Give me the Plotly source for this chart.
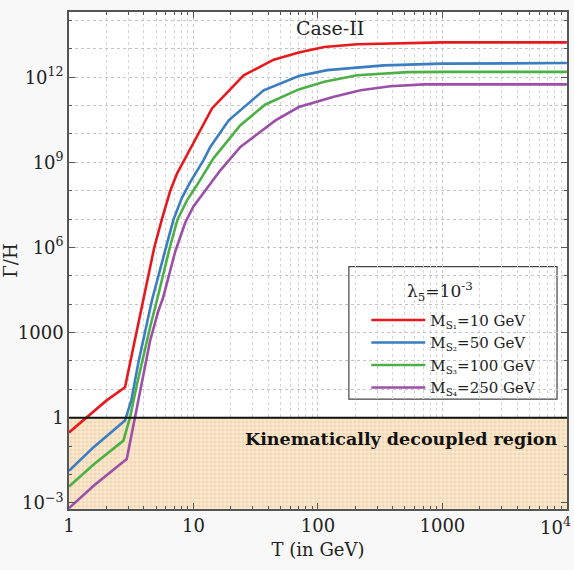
import plotly.graph_objects as go

# Temperature grid (GeV) and interaction rate over Hubble rate for each scalar mass
T_s1 = [1, 1.387, 1.995, 2.818, 3.311, 3.917, 4.842, 5.572, 6.501, 7.362, 8.59, 10,
        14.09, 25.29, 44.16, 70.15, 112.2, 207, 1000, 10000]
G_s1 = [0.302, 1.0, 3.98, 11.75, 355, 1.35e4, 1.0e6, 9.77e6, 9.77e7, 3.98e8, 1.41e9,
        5.25e9, 7.94e10, 1.17e12, 4.17e12, 7.41e12, 1.17e13, 1.45e13, 1.70e13, 1.70e13]

T_s2 = [1, 1.585, 2.818, 3.162, 3.614, 4.093, 4.634, 6.012, 6.918, 8.072, 9.419, 12.05,
        13.65, 19.19, 36.64, 70.15, 118.9, 338.8, 1000, 10000]
G_s2 = [0.0135, 0.093, 0.794, 3.98, 89.1, 1259, 1.35e4, 1.0e6, 9.77e6, 5.62e7, 2.0e8,
        1.2e9, 3.47e9, 3.02e10, 3.47e11, 1.10e12, 1.78e12, 2.63e12, 3.02e12, 3.16e12]

T_s3 = [1, 1.585, 2.735, 3.09, 3.508, 3.963, 4.487, 5.082, 6.457, 7.447, 8.872, 10.67,
        14.52, 23.82, 37.84, 70.15, 112.2, 207, 524.8, 1000, 10000]
G_s3 = [0.00372, 0.0229, 0.155, 1.0, 14.1, 158, 1585, 1.35e4, 1.0e6, 9.77e6, 4.57e7,
        1.58e8, 1.41e9, 2.04e10, 1.10e11, 3.72e11, 6.92e11, 1.17e12, 1.51e12, 1.55e12, 1.55e12]

T_s4 = [1, 1.585, 2.911, 3.396, 3.846, 4.487, 5.236, 5.675, 7.129, 8.59, 10, 12.45, 16.44,
        23.82, 45.6, 70.15, 134.3, 220.3, 380.2, 712.9, 10000]
G_s4 = [6.46e-4, 0.00404, 0.0347, 1.0, 20.4, 525, 6026, 1.58e4, 7.08e5, 7.6e6, 2.8e7,
        1.02e8, 5.25e8, 3.47e9, 3.02e10, 8.91e10, 2.04e11, 3.47e11, 4.79e11, 5.62e11, 5.62e11]

series_names = [
    "M<sub>S\u2081</sub>=10 GeV",
    "M<sub>S\u2082</sub>=50 GeV",
    "M<sub>S\u2083</sub>=100 GeV",
    "M<sub>S\u2084</sub>=250 GeV",
]
series_colors = ["#e8191e", "#3a7dc0", "#4cb047", "#9b4fa8"]

x_ticks = [1, 10, 100, 1000, 10000]
x_tick_text = ["1", "10", "100", "1000", "10<sup>4</sup>"]
y_ticks = [1e-3, 1, 1e3, 1e6, 1e9, 1e12]
y_tick_text = ["10<sup>\u22123</sup>", "1", "1000", "10<sup>6</sup>", "10<sup>9</sup>", "10<sup>12</sup>"]

X_RANGE = [0, 4.001]
Y_RANGE = [-3.22, 14.3]
DECOUPLING_LEVEL = 1.0

FONT = "DejaVu Serif"

fig = go.Figure()

# Shaded region below Gamma/H = 1
y_floor = 10 ** Y_RANGE[0]
fig.add_trace(go.Scatter(
    x=[x_ticks[0], x_ticks[-1], x_ticks[-1], x_ticks[0]],
    y=[y_floor, y_floor, DECOUPLING_LEVEL, DECOUPLING_LEVEL],
    fill="toself", mode="none", showlegend=False, hoverinfo="skip",
    fillcolor="#f7e4c8",
    fillpattern=dict(shape=".", size=4, solidity=0.5, fgcolor="#efc690", bgcolor="#f8e8d2"),
))

for T, G, name, color in zip([T_s1, T_s2, T_s3, T_s4], [G_s1, G_s2, G_s3, G_s4],
                              series_names, series_colors):
    fig.add_trace(go.Scatter(x=T, y=G, mode="lines", name=name,
                             line=dict(color=color, width=2.6)))

# Minor tick positions
minor_x = [m * 10 ** d for d in range(0, 4) for m in range(2, 10)]
minor_y = [10.0 ** k for k in range(-3, 15)]

axis_common = dict(
    showline=True, linecolor="#555", linewidth=1.6, mirror="allticks",
    ticks="inside", ticklen=6, tickcolor="#555",
    showgrid=True, gridcolor="#c4c4c4", griddash="dot", gridwidth=1,
    zeroline=False, automargin=False,
    tickfont=dict(family=FONT, size=18, color="#222"),
)

# The last x label sits at the right edge, so it is placed right-aligned separately
fig.update_xaxes(
    type="log", range=X_RANGE, tickvals=x_ticks, ticktext=x_tick_text[:-1] + [""],
    title=dict(text="T (in GeV)", font=dict(family=FONT, size=18, color="#222"), standoff=8),
    minor=dict(tickvals=minor_x, ticks="inside", ticklen=3, tickcolor="#555",
               showgrid=True, gridcolor="#d4d4d4", griddash="dot", gridwidth=1),
    **axis_common,
)
fig.add_annotation(text=x_tick_text[-1], x=1.012, xref="paper", y=0, yref="paper",
                   yshift=-3, showarrow=False, xanchor="right", yanchor="top",
                   font=dict(family=FONT, size=18, color="#222"))

fig.update_yaxes(
    type="log", range=Y_RANGE, tickvals=y_ticks, ticktext=y_tick_text,
    title=dict(text="\u0393/H", font=dict(family=FONT, size=18, color="#222"), standoff=4),
    minor=dict(tickvals=minor_y, ticks="inside", ticklen=3, tickcolor="#555",
               showgrid=True, gridcolor="#c4c4c4", griddash="dot", gridwidth=1),
    **axis_common,
)

# Threshold line at Gamma/H = 1
fig.add_shape(type="line", xref="paper", yref="y", x0=0, x1=1,
              y0=DECOUPLING_LEVEL, y1=DECOUPLING_LEVEL,
              line=dict(color="#111", width=2), layer="above")

# Legend frame
fig.add_shape(type="rect", xref="paper", yref="paper", x0=0.562, x1=0.980, y0=0.221, y1=0.4875,
              line=dict(color="#444", width=1.2), fillcolor="white", layer="between")

fig.add_annotation(text="\u03bb<sub>5</sub>=10<sup>-3</sup>", xref="paper", yref="paper",
                   x=0.745, y=0.437, showarrow=False, xanchor="center", yanchor="middle",
                   font=dict(family=FONT, size=17, color="#222"))

fig.add_annotation(text="<b>Kinematically decoupled region</b>", xref="paper", yref="paper",
                   x=0.985, y=0.14, showarrow=False, xanchor="right", yanchor="middle",
                   font=dict(family=FONT, size=17.5, color="#111"))

fig.add_annotation(text="Case-II", xref="paper", yref="paper",
                   x=0.525, y=0.968, showarrow=False, xanchor="center", yanchor="middle",
                   font=dict(family=FONT, size=19, color="#222"))

fig.update_layout(
    width=574, height=570,
    margin=dict(l=69, r=7, t=12, b=61),
    paper_bgcolor="#f8f8f8", plot_bgcolor="white",
    showlegend=True,
    legend=dict(x=0.597, y=0.413, xanchor="left", yanchor="top",
                bgcolor="rgba(0,0,0,0)", borderwidth=0, tracegroupgap=0,
                font=dict(family=FONT, size=15, color="#222"), itemwidth=54),
)

fig.write_html("out.html")
